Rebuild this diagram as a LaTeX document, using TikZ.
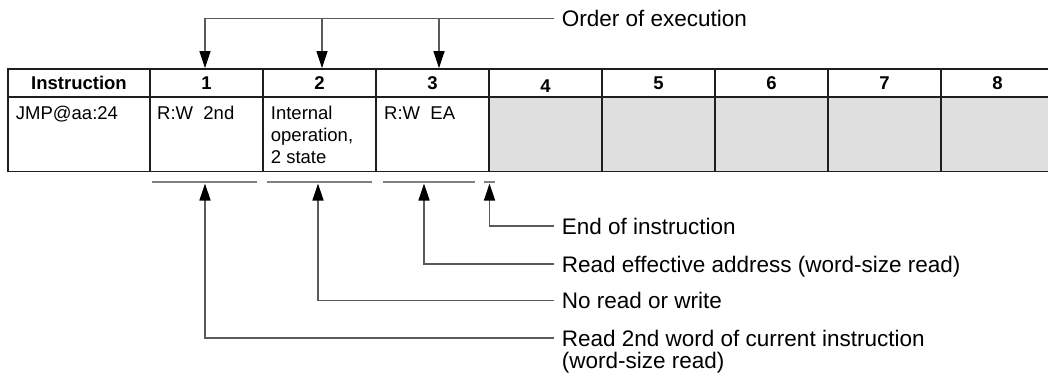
\documentclass[tikz,border=0pt]{standalone}
\usepackage{fontspec}
\setmainfont{Liberation Sans}
\usetikzlibrary{arrows.meta}
\definecolor{tline}{HTML}{1E1E1E}
\definecolor{cline}{HTML}{5A5A5A}
\definecolor{sline}{HTML}{808080}
\definecolor{cellfill}{HTML}{DFDFDF}
\begin{document}
\begin{tikzpicture}[x=1pt,y=-1pt,
  hcell/.style={draw=tline, line width=1.6pt, inner sep=0pt, minimum height=28pt, minimum width=113pt, font=\fontsize{18.5}{22}\selectfont\bfseries, text height=13.3pt, text depth=0pt},
  bcell/.style={draw=tline, line width=1.6pt, inner sep=0pt, minimum height=74.7pt, minimum width=113pt},
  greycell/.style={bcell, fill=cellfill},
  celltext/.style={inner sep=0pt, font=\fontsize{18.5}{22}\selectfont, anchor=base west},
  legend/.style={inner xsep=7.7pt, inner ysep=0pt, font=\fontsize{22.5}{22}\selectfont, anchor=west, text height=16.4pt, text depth=0pt},
  legendtwo/.style={inner xsep=7.7pt, inner ysep=0pt, font=\fontsize{22.5}{22}\selectfont, anchor=north west, align=left},
  conn/.style={draw=cline, line width=1.3pt},
  seg/.style={draw=sline, line width=2pt},
  tip/.style={-{Triangle[length=17pt,width=11pt,color=black]}}
]
\useasboundingbox (0,0) rectangle (1048,374);
\fill[white] (0,0) rectangle (1048,374);
\clip (0,0) rectangle (1048,374);

% header row
\node[hcell, minimum width=142pt] (h0) at (79,83) {Instruction};
\node[hcell] (h1) at (206.5,83) {1};
\node[hcell] (h2) at (319.5,83) {2};
\node[hcell] (h3) at (432.5,83) {3};
\node[hcell] (h4) at (545.5,83) {\raisebox{-3pt}{4}};
\node[hcell] (h5) at (658.5,83) {5};
\node[hcell] (h6) at (771.5,83) {6};
\node[hcell] (h7) at (884.5,83) {7};
\node[hcell] (h8) at (997.5,83) {8};

% body row
\node[bcell, minimum width=142pt] (b0) at (79,134.35) {};
\node[bcell] (b1) at (206.5,134.35) {};
\node[bcell] (b2) at (319.5,134.35) {};
\node[bcell] (b3) at (432.5,134.35) {};
\node[greycell] (b4) at (545.5,134.35) {};
\node[greycell] (b5) at (658.5,134.35) {};
\node[greycell] (b6) at (771.5,134.35) {};
\node[greycell] (b7) at (884.5,134.35) {};
\node[greycell] (b8) at (997.5,134.35) {};

\node[celltext] (t0) at (15.7,119.3) {JMP@aa:24};
\node[celltext] (t1) at (157,119.3) {R:W\ \ 2nd};
\node[celltext, anchor=north west, align=left] (t2) at (270.7,105.9) {Internal\\operation,\\2 state};
\node[celltext] (t3) at (384,119.3) {R:W\ \ EA};

% order of execution
\node[legend] (oe) at (554,18.4) {Order of execution};
\coordinate (o1) at (205,18.4);
\coordinate (o2) at (322,18.4);
\coordinate (o3) at (439,18.4);
\draw[conn] (oe.west) -- (o1);
\draw[conn,tip] (o1) -- (o1 |- h1.north);
\draw[conn,tip] (o2) -- (o2 |- h2.north);
\draw[conn,tip] (o3) -- (o3 |- h3.north);

% state segments
\draw[seg] (152,181.7) -- (257,181.7);
\draw[seg] (267,181.7) -- (372,181.7);
\draw[seg] (383,181.7) -- (475,181.7);
\draw[seg] (484,181.7) -- (495,181.7);

% legend
\node[legend] (ei) at (554,226) {End of instruction};
\node[legend] (re) at (554,264) {Read effective address (word-size read)};
\node[legend] (nr) at (554,300.7) {No read or write};
\node[legendtwo] (r2) at (554,330.1) {Read 2nd word of current instruction\\(word-size read)};

\coordinate (a1) at (205,183.5);
\coordinate (a2) at (318,183.5);
\coordinate (a3) at (424,183.5);
\coordinate (a4) at (489.5,183.5);
\draw[conn,tip] ([yshift=-8pt]r2.north west) -| (a1);
\draw[conn,tip] (nr.west) -| (a2);
\draw[conn,tip] (re.west) -| (a3);
\draw[conn,tip] (ei.west) -| (a4);
\end{tikzpicture}
\end{document}
